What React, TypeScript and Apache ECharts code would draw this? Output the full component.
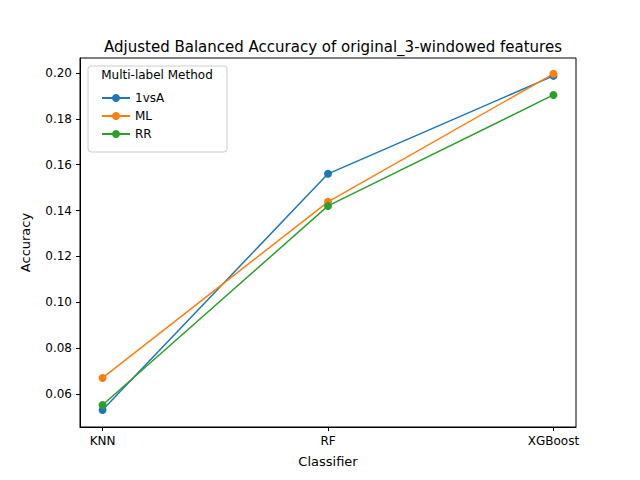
import React, { useEffect, useRef } from "react";
import * as echarts from "echarts";

const classifiers = ["KNN", "RF", "XGBoost"];
const oneVsA = [0.053, 0.156, 0.1987];
const ml = [0.067, 0.1438, 0.1996];
const rr = [0.0552, 0.142, 0.1904];
const yTicks = [0.06, 0.08, 0.1, 0.12, 0.14, 0.16, 0.18, 0.2];
const xTicks = [0, 1, 2];

const font = "DejaVu Sans";

const App: React.FC = () => {
  const chartRef = useRef<HTMLDivElement>(null);

  useEffect(() => {
    if (!chartRef.current) return;
    document.body.style.margin = "0";
    const myChart = echarts.init(chartRef.current, undefined, { renderer: "svg" });

    const mk = (name: string, data: number[], color: string) => ({
      name,
      type: "line",
      data: data.map((v, i) => [i, v]),
      symbol: "circle",
      symbolSize: 8,
      lineStyle: { color, width: 1.5 },
      itemStyle: { color },
    });

    const option = {
      animation: false,
      textStyle: { fontFamily: font },
      title: {
        text: "Adjusted Balanced Accuracy of original_3-windowed features",
        left: 328,
        top: 34,
        textAlign: "center",
        textStyle: { fontFamily: font, fontSize: 15, fontWeight: "normal", color: "#000" },
      },
      grid: { left: 80, right: 64, top: 58, bottom: 53, show: true, borderColor: "#000", borderWidth: 1 },
      xAxis: {
        type: "value",
        min: -0.1,
        max: 2.1,
        splitLine: { show: false },
        axisLine: { onZero: false, lineStyle: { color: "#000" } },
        axisTick: { show: true, length: 4, customValues: xTicks, lineStyle: { color: "#000" } },
        axisLabel: {
          color: "#000",
          fontSize: 12,
          customValues: xTicks,
          formatter: (v: number) => classifiers[Math.round(v)] ?? "",
        },
        name: "Classifier",
        nameLocation: "middle",
        nameGap: 28,
        nameTextStyle: { color: "#000", fontSize: 13 },
      },
      yAxis: {
        type: "value",
        min: 0.0456,
        max: 0.2065,
        splitLine: { show: false },
        axisLine: { show: true, onZero: false, lineStyle: { color: "#000" } },
        axisTick: { show: true, length: 4, customValues: yTicks, lineStyle: { color: "#000" } },
        axisLabel: {
          color: "#000",
          fontSize: 12,
          customValues: yTicks,
          formatter: (v: number) => v.toFixed(2),
        },
        name: "Accuracy",
        nameLocation: "middle",
        nameGap: 48,
        nameTextStyle: { color: "#000", fontSize: 13 },
      },
      legend: {
        orient: "vertical",
        left: 96,
        top: 87,
        itemGap: 6,
        itemWidth: 28,
        itemHeight: 10,
        textStyle: { fontFamily: font, fontSize: 12, color: "#000" },
        data: ["1vsA", "ML", "RR"],
      },
      graphic: [
        {
          type: "rect",
          shape: { x: 88, y: 66, width: 139, height: 86, r: 3 },
          style: { fill: "rgba(255,255,255,0.8)", stroke: "#ccc", lineWidth: 1 },
          z: -1,
        },
        {
          type: "text",
          x: 157,
          y: 69,
          style: { text: "Multi-label Method", fontFamily: font, fontSize: 12, fill: "#000", textAlign: "center" },
        },
      ],
      series: [mk("1vsA", oneVsA, "#1f77b4"), mk("ML", ml, "#ff7f0e"), mk("RR", rr, "#2ca02c")],
    };

    myChart.setOption(option as any);
    return () => {
      myChart.dispose();
    };
  }, []);

  return <div ref={chartRef} style={{ width: "640px", height: "480px" }} />;
};

export default App;
